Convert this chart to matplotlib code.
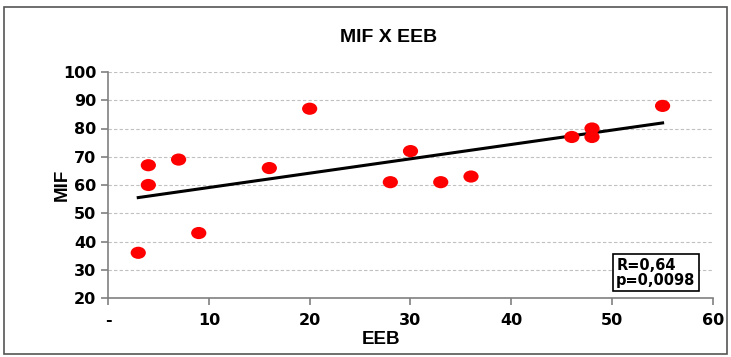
import matplotlib
matplotlib.use('Agg')
import matplotlib.pyplot as plt
import numpy as np
from matplotlib.patches import Rectangle
from matplotlib.path import Path
from matplotlib.transforms import Affine2D

# data
eeb = [3, 4, 4, 7, 9, 16, 20, 28, 30, 33, 36, 46, 48, 48, 55]
mif = [36, 67, 60, 69, 43, 66, 87, 61, 72, 61, 63, 77, 80, 77, 88]
xticks = [0, 10, 20, 30, 40, 50, 60]
xticklabels = ['-', '10', '20', '30', '40', '50', '60']
yticks = [20, 30, 40, 50, 60, 70, 80, 90, 100]
stats_text = 'R=0,64\np=0,0098'

W, H = 731, 357
fig = plt.figure(figsize=(W/100, H/100), dpi=100)
ax = fig.add_axes([108/W, 1-298/H, (713-108)/W, (298-72)/H])

# outer frame
fig.patches.append(Rectangle((4/W, 1-354/H), (727-4)/W, (354-7)/H,
                             transform=fig.transFigure, fill=False,
                             edgecolor='#555555', lw=1.2))

# slightly wide elliptical markers like the original
circ = Path.unit_circle()
ellipse = Path(Affine2D().scale(1.25, 1.0).transform(circ.vertices), circ.codes)
ax.scatter(eeb, mif, s=120, marker=ellipse, color='#ff0000',
           edgecolors='none', zorder=3)

# linear trend line
k, b = np.polyfit(eeb, mif, 1)
xs = np.array([min(eeb), max(eeb)])
ax.plot(xs, k*xs + b, color='black', lw=2.2, zorder=2)

ax.set_xlim(0, 60)
ax.set_ylim(20, 100)
ax.set_xticks(xticks)
ax.set_xticklabels(xticklabels)
ax.set_yticks(yticks)
ax.yaxis.grid(True, linestyle=(0, (3, 2)), color='#c0c0c0', lw=0.8)
ax.set_axisbelow(True)
for s in ['top', 'right']:
    ax.spines[s].set_visible(False)
for s in ['left', 'bottom']:
    ax.spines[s].set_color('#808080')
    ax.spines[s].set_linewidth(1.2)
ax.tick_params(axis='both', colors='#808080', length=5, width=1.2,
               labelcolor='black', labelsize=11.5)
for lab in ax.get_xticklabels() + ax.get_yticklabels():
    lab.set_fontweight('bold')
    lab.set_family('DejaVu Sans')
ax.tick_params(axis='x', pad=6)

ax.set_xlabel('EEB', fontsize=13.5, fontweight='bold', family='Liberation Sans',
              va='center')
ax.xaxis.set_label_coords((381-108)/(713-108), -(340-298)/226)
ax.set_ylabel('MIF', fontsize=13.5, fontweight='bold', family='Liberation Sans',
              va='center')
ax.yaxis.set_label_coords(-(108-62)/605, 0.5)

fig.text(389/W, 1-38/H, 'MIF X EEB', ha='center', va='center',
         fontsize=14, fontweight='bold', family='Liberation Sans')

ax.text(0.84, 0.112, stats_text, transform=ax.transAxes, fontsize=10.5,
        fontweight='bold', family='DejaVu Sans', va='center', ha='left',
        linespacing=1.0,
        bbox=dict(boxstyle='square,pad=0.25', fc='white', ec='black', lw=1.2))

fig.savefig('out.png', dpi=100)
